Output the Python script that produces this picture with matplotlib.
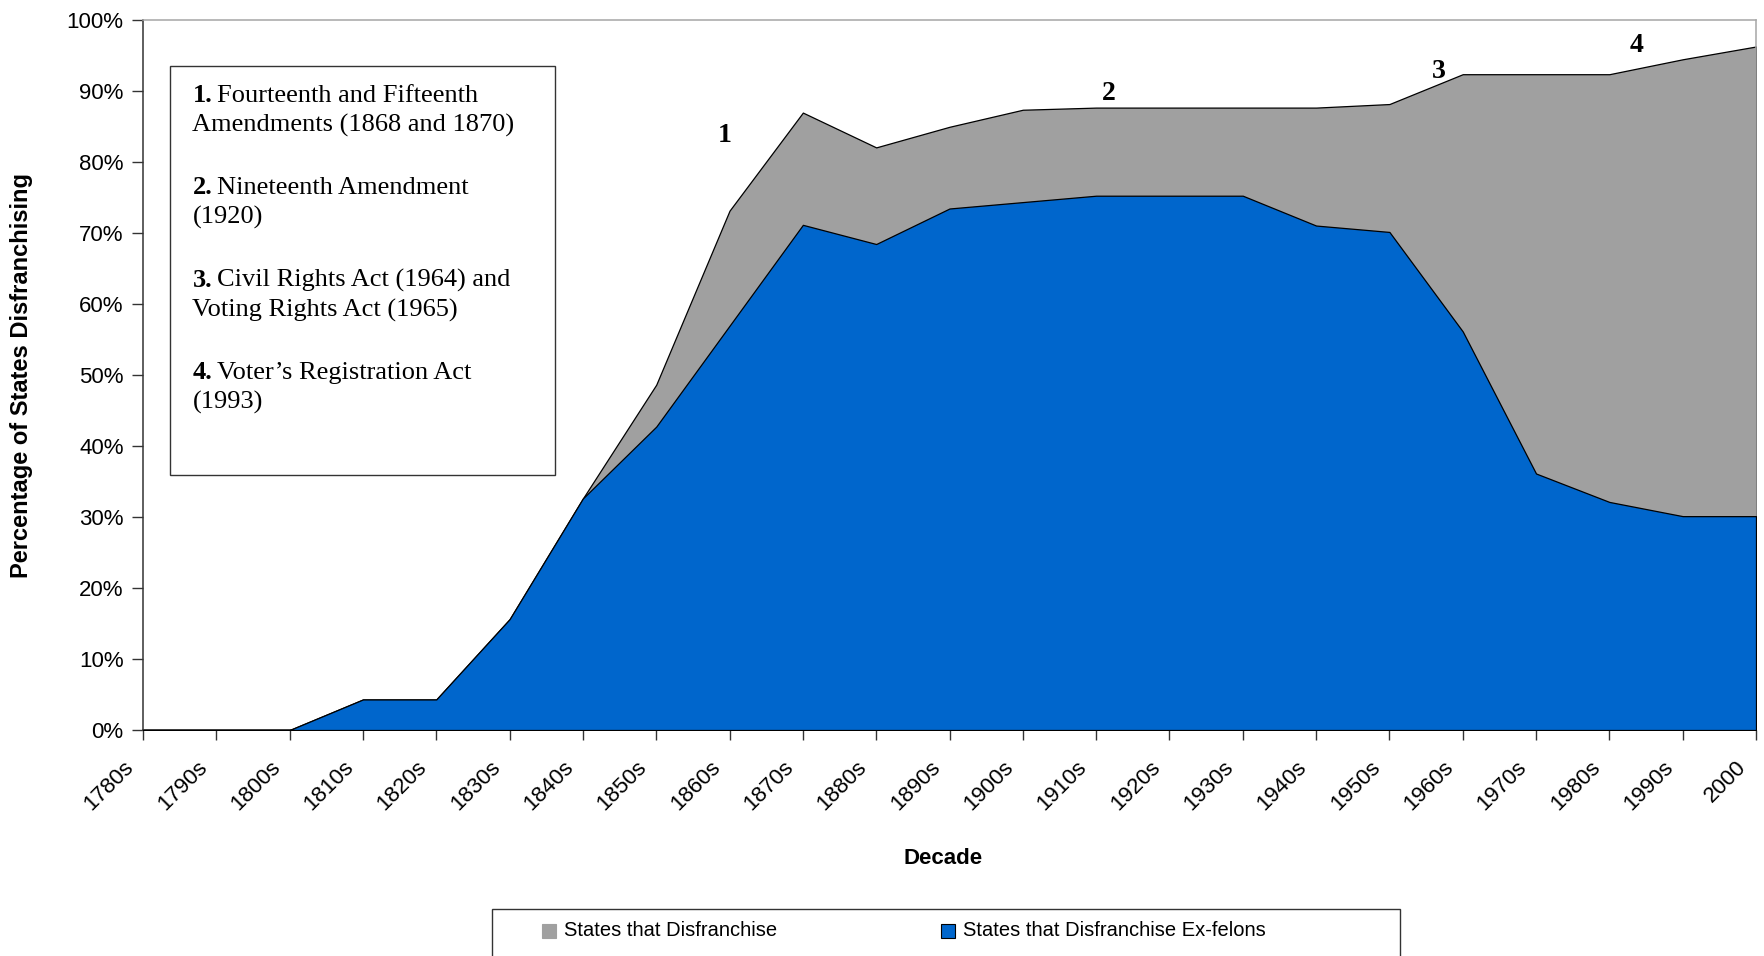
import matplotlib
matplotlib.use("Agg")
import matplotlib.pyplot as plt
from matplotlib.patches import Rectangle
from matplotlib.ticker import PercentFormatter
from matplotlib.transforms import ScaledTranslation

# ---------------- data ----------------
decades = ["1780s", "1790s", "1800s", "1810s", "1820s", "1830s", "1840s", "1850s",
           "1860s", "1870s", "1880s", "1890s", "1900s", "1910s", "1920s", "1930s",
           "1940s", "1950s", "1960s", "1970s", "1980s", "1990s", "2000"]
disfranchise = [0, 0, 0, 4.3, 4.3, 15.6, 32.6, 48.6, 73.1, 86.9, 82.0, 84.9, 87.3,
                87.6, 87.6, 87.6, 87.6, 88.1, 92.3, 92.3, 92.3, 94.4, 96.2]
exfelons = [0, 0, 0, 4.3, 4.3, 15.6, 32.6, 42.7, 56.9, 71.1, 68.4, 73.4, 74.3,
            75.2, 75.2, 75.2, 71.0, 70.1, 56.1, 36.1, 32.1, 30.1, 30.1]
series_names = ["States that Disfranchise", "States that Disfranchise Ex-felons"]
series_colors = ["#A0A0A0", "#0066CC"]
y_ticks = [0, 10, 20, 30, 40, 50, 60, 70, 80, 90, 100]
event_labels = ["1", "2", "3", "4"]
event_pos = [(725, 136), (1109, 93), (1439, 71), (1637, 46)]  # figure pixels
notes = [("1.", ["Fourteenth and Fifteenth", "Amendments (1868 and 1870)"]),
         ("2.", ["Nineteenth Amendment", "(1920)"]),
         ("3.", ["Civil Rights Act (1964) and", "Voting Rights Act (1965)"]),
         ("4.", ["Voter\u2019s Registration Act", "(1993)"])]

W, H = 1765, 956
fig = plt.figure(figsize=(W / 100, H / 100), dpi=100)
fig.patch.set_facecolor("white")

def fx(px):
    return px / W

def fy(py):
    return 1 - py / H

ax = fig.add_axes([fx(143), fy(730), fx(1756) - fx(143), fy(19.5) - fy(730)])
x = list(range(len(decades)))
ax.fill_between(x, 0, disfranchise, facecolor=series_colors[0], edgecolor="black",
                linewidth=0.9, zorder=2)
ax.fill_between(x, 0, exfelons, facecolor=series_colors[1], edgecolor="black",
                linewidth=0.9, zorder=3)
ax.set_xlim(0, len(decades) - 1)
ax.set_ylim(0, 100)
ax.set_yticks(y_ticks)
ax.yaxis.set_major_formatter(PercentFormatter(decimals=0))
ax.set_xticks(x)
ax.set_xticklabels([])
label_tr = ax.get_xaxis_transform() + ScaledTranslation(-20 / 100, -27 / 100,
                                                        fig.dpi_scale_trans)
for xi, lab in zip(x, decades):
    ax.text(xi, 0, lab, transform=label_tr, rotation=45, ha="right", va="top",
            rotation_mode="anchor", fontsize=16, family="Liberation Sans", clip_on=False)
for lab in ax.get_yticklabels():
    lab.set_fontsize(16)
    lab.set_family("Liberation Sans")
ax.tick_params(axis="y", direction="out", length=8, width=1, pad=6, colors="#333333",
               labelcolor="black")
ax.tick_params(axis="x", direction="out", length=7, width=1, colors="#333333")
for s in ["left", "bottom"]:
    ax.spines[s].set_color("#333333")
    ax.spines[s].set_linewidth(1.1)
for s in ["top", "right"]:
    ax.spines[s].set_color("#A6A6A6")
    ax.spines[s].set_linewidth(1.1)
ax.set_facecolor("white")

# axis titles
fig.text(fx(943), fy(859), "Decade", ha="center", va="center", fontsize=16,
         fontweight="bold", family="Liberation Sans")
fig.text(fx(22), fy(375), "Percentage of States Disfranchising", ha="center",
         va="center", rotation=90, fontsize=17, fontweight="bold", family="Liberation Sans")

# event numbers
for lab, (px, py) in zip(event_labels, event_pos):
    fig.text(fx(px), fy(py), lab, ha="center", va="center", fontsize=20,
             fontweight="bold", family="Liberation Serif")

# notes box
fig.patches.append(Rectangle((fx(170), fy(475)), fx(555) - fx(170), fy(66) - fy(475),
                             transform=fig.transFigure, facecolor="white",
                             edgecolor="#333333", linewidth=1.0, zorder=5))
renderer = fig.canvas.get_renderer()
line_y = [96, 188, 280.5, 372.5]
for (num, lines), y0 in zip(notes, line_y):
    t = fig.text(fx(192.5), fy(y0), num, ha="left", va="center", fontsize=19,
                 fontweight="bold", family="Liberation Serif", zorder=6)
    bb = t.get_window_extent(renderer=renderer)
    fig.text(fx(192.5 + bb.width + 5), fy(y0), lines[0], ha="left", va="center",
             fontsize=19, family="Liberation Serif", zorder=6)
    fig.text(fx(192.5), fy(y0 + 29.5), lines[1], ha="left", va="center",
             fontsize=19, family="Liberation Serif", zorder=6)

# legend
fig.patches.append(Rectangle((fx(492), fy(970)), fx(1400) - fx(492), fy(909) - fy(970),
                             transform=fig.transFigure, facecolor="white",
                             edgecolor="#333333", linewidth=1.0, zorder=5))
leg_x = [549, 948]
for name, col, lx in zip(series_names, series_colors, leg_x):
    ec = "black" if col == series_colors[1] else col
    fig.patches.append(Rectangle((fx(lx - 7), fy(938)), fx(14), fy(924) - fy(938),
                                 transform=fig.transFigure, facecolor=col,
                                 edgecolor=ec, linewidth=0.8, zorder=6))
    fig.text(fx(lx + 15), fy(931), name, ha="left", va="center", fontsize=14.5,
             family="Liberation Sans", zorder=6)

fig.savefig("out.png", dpi=100)
